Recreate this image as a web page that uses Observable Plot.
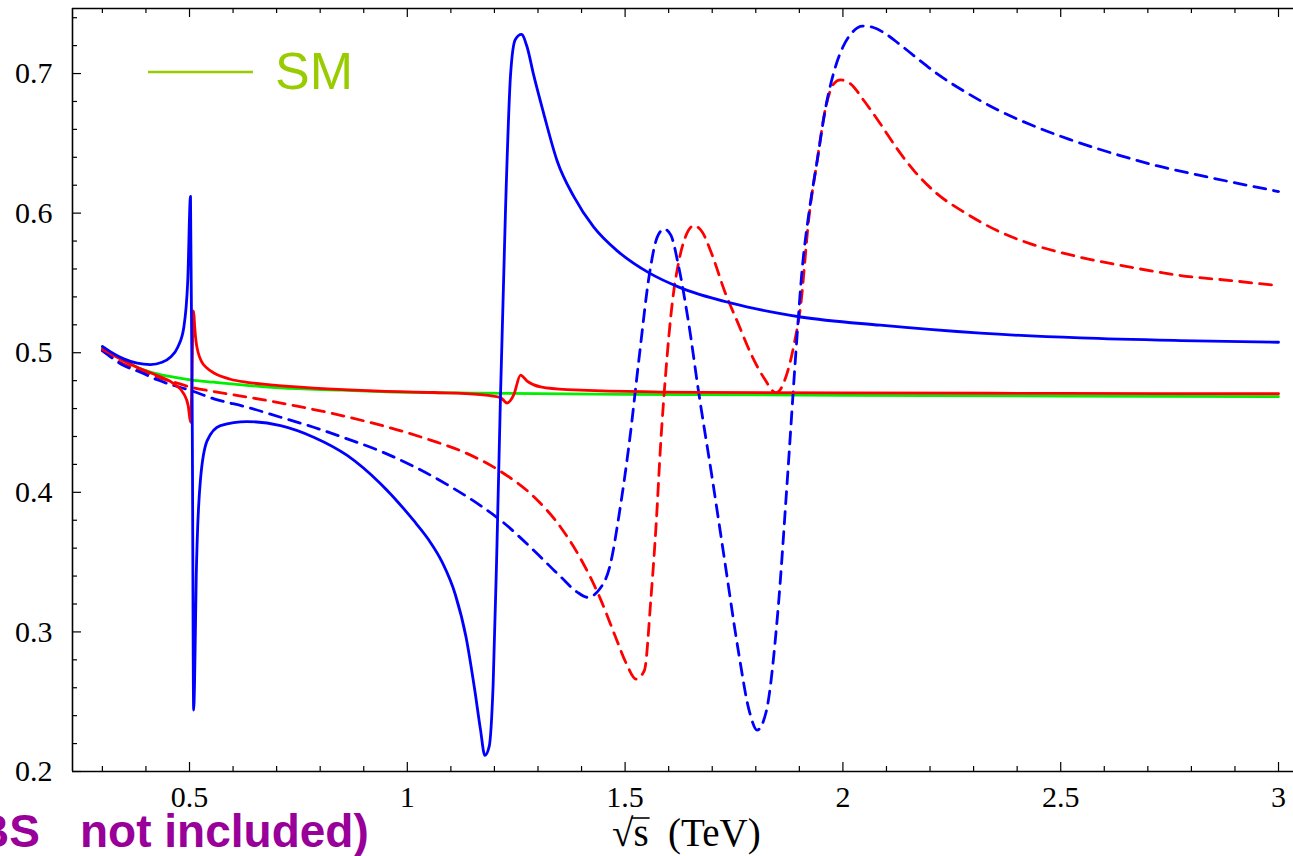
<!DOCTYPE html>
<html><head><meta charset="utf-8">
<script src="https://cdn.jsdelivr.net/npm/d3@7"></script>
<script src="https://cdn.jsdelivr.net/npm/@observablehq/plot@0.6"></script>
<style>
body{margin:0;background:#fff;}
#chart{position:relative;width:1293px;height:856px;overflow:hidden;background:#fff;}
</style>
</head><body><div id="chart"></div>
<script>
// ---- axes / ticks ----
const xDomain = [0.2314, 3.0344];
const yDomain = [0.2, 0.7466];
const xMajor = [0.5, 1, 1.5, 2, 2.5, 3];
const xMinor = [0.3,0.4,0.6,0.7,0.8,0.9,1.1,1.2,1.3,1.4,1.6,1.7,1.8,1.9,2.1,2.2,2.3,2.4,2.6,2.7,2.8,2.9];
const yMajor = [0.2, 0.3, 0.4, 0.5, 0.6, 0.7];
const yMinor = [0.22,0.24,0.26,0.28,0.32,0.34,0.36,0.38,0.42,0.44,0.46,0.48,0.52,0.54,0.56,0.58,0.62,0.64,0.66,0.68,0.72,0.74];

// ---- blue solid ----
const bsX = [0.30,0.319,0.349,0.380,0.410,0.437,0.456,0.473,0.487,0.496,0.5023,0.5065,0.5095,0.5115,0.5135,0.5155,0.5177,0.525,0.5406,0.571,0.632,0.709,0.785,0.862,0.938,1.014,1.049,1.08,1.11,1.135,1.155,1.168,1.178,1.188,1.197,1.206,1.214,1.2255,1.237,1.248,1.262,1.275,1.290,1.313,1.344,1.382,1.428,1.482,1.556,1.6235,1.744,1.857,1.903,2.086,2.316,2.545,2.775,3.0];
const bsY = [0.5045,0.5006,0.4956,0.4925,0.4915,0.4932,0.4968,0.5039,0.5183,0.5517,0.612,0.44,0.244,0.262,0.30,0.34,0.3655,0.4085,0.437,0.4478,0.4507,0.4478,0.4395,0.4264,0.4063,0.380,0.366,0.350,0.327,0.296,0.258,0.230,0.2115,0.218,0.262,0.364,0.470,0.603,0.699,0.7244,0.728,0.719,0.699,0.6715,0.6374,0.612,0.590,0.573,0.557,0.547,0.5355,0.528,0.5256,0.5197,0.514,0.5106,0.5087,0.5075];

// ---- red solid ----
const rsX = [0.30,0.334,0.3875,0.426,0.464,0.487,0.497,0.5025,0.5095,0.512,0.5155,0.52,0.528,0.54,0.556,0.594,0.632,0.686,0.785,0.938,1.061,1.168,1.214,1.229,1.2445,1.26,1.275,1.306,1.367,1.673,2.0,2.5,3.0];
const rsY = [0.5026,0.4968,0.4885,0.4837,0.4777,0.4706,0.462,0.4502,0.530,0.518,0.507,0.500,0.4935,0.489,0.4855,0.481,0.4788,0.477,0.4747,0.4725,0.4715,0.4700,0.4679,0.4640,0.470,0.484,0.4797,0.4755,0.4736,0.4716,0.4712,0.4709,0.4706];

// ---- green solid (SM) ----
const gsX = [0.30,0.349,0.3875,0.426,0.464,0.502,0.556,0.62,0.709,0.85,0.938,1.168,1.5,2.0,2.5,3.0];
const gsY = [0.5035,0.4944,0.4885,0.4849,0.4825,0.4806,0.4789,0.4770,0.4748,0.4732,0.4722,0.4710,0.4702,0.4695,0.4690,0.4686];

// ---- blue dashed ----
const bdX = [0.30,0.349,0.3875,0.426,0.464,0.502,0.556,0.632,0.709,0.785,0.862,0.938,1.015,1.0916,1.168,1.214,1.290,1.352,1.390,1.414,1.442,1.465,1.4876,1.510,1.533,1.5556,1.574,1.5895,1.6047,1.6235,1.646,1.669,1.699,1.7293,1.7594,1.7857,1.803,1.8237,1.850,1.873,1.8917,1.9068,1.922,1.941,1.960,1.983,2.00,2.02,2.045,2.07,2.10,2.13,2.17,2.22,2.28,2.35,2.43,2.52,2.62,2.72,2.82,2.92,3.0];
const bdY = [0.5015,0.4908,0.486,0.4806,0.4765,0.473,0.467,0.461,0.4538,0.4466,0.4383,0.4295,0.4185,0.4055,0.3905,0.380,0.3585,0.3395,0.3285,0.3248,0.3309,0.347,0.3868,0.4365,0.4987,0.5559,0.583,0.5886,0.5844,0.5608,0.521,0.4714,0.412,0.3495,0.2874,0.2426,0.2297,0.2426,0.3122,0.4117,0.4987,0.561,0.600,0.6377,0.675,0.705,0.719,0.729,0.734,0.733,0.728,0.721,0.711,0.699,0.687,0.6748,0.6635,0.6528,0.6428,0.634,0.627,0.6205,0.6155];

// ---- red dashed ----
const rdX = [0.30,0.349,0.3875,0.426,0.464,0.502,0.556,0.6706,0.747,0.8237,0.900,0.977,1.0533,1.130,1.214,1.290,1.352,1.3969,1.442,1.480,1.5027,1.5255,1.5443,1.5594,1.5707,1.582,1.5935,1.6084,1.6235,1.6386,1.6575,1.6763,1.699,1.7293,1.7594,1.7897,1.820,1.8464,1.8728,1.888,1.9027,1.922,1.941,1.960,1.979,1.9945,2.0175,2.048,2.086,2.1246,2.163,2.2165,2.278,2.354,2.431,2.545,2.660,2.775,2.890,3.0];
const rdY = [0.5015,0.4920,0.4873,0.4825,0.479,0.4754,0.4722,0.4662,0.4617,0.4568,0.4512,0.4448,0.4374,0.4288,0.415,0.397,0.375,0.353,0.3246,0.2948,0.2774,0.2662,0.2725,0.3246,0.3743,0.4365,0.4863,0.536,0.5657,0.5831,0.591,0.5868,0.5707,0.5434,0.521,0.4987,0.4813,0.4713,0.4863,0.5062,0.533,0.597,0.6377,0.675,0.6926,0.6954,0.6926,0.6807,0.664,0.646,0.6305,0.6138,0.6007,0.5875,0.578,0.5684,0.5613,0.5553,0.5517,0.548];

const toRows = (xs, ys) => xs.map((x, i) => ({x, y: ys[i]}));
const bs = toRows(bsX, bsY), rs = toRows(rsX, rsY), gs = toRows(gsX, gsY),
      bd = toRows(bdX, bdY), rd = toRows(rdX, rdY);

const W = 1293, H = 856, mL = 72, mT = 8, mB = 85, mR = 0;
const FW = W - mL - mR, FH = H - mT - mB;
const serif = "Liberation Serif, Times New Roman, serif";
const sans = "Liberation Sans, Arial, sans-serif";
const lineOpts = {x: "x", y: "y", strokeWidth: 2.8, curve: "monotone-x"};

const plot = Plot.plot({
  width: W, height: H,
  marginLeft: mL, marginTop: mT, marginBottom: mB, marginRight: mR,
  style: {fontFamily: serif, fontSize: "30px", color: "black", background: "white", overflow: "visible"},
  x: {domain: xDomain, label: null},
  y: {domain: yDomain, label: null},
  marks: [
    Plot.ruleX([xDomain[0]], {stroke: "black", strokeWidth: 1.6}),
    Plot.ruleY([yDomain[0]], {stroke: "black", strokeWidth: 1.6}),
    Plot.ruleY([yDomain[1]], {stroke: "black", strokeWidth: 1.6}),
    Plot.tickX(xMinor, {x: d => d, insetTop: FH - 5, stroke: "black", strokeWidth: 1.2}),
    Plot.tickX(xMajor, {x: d => d, insetTop: FH - 9, stroke: "black", strokeWidth: 1.2}),
    Plot.tickX(xMinor, {x: d => d, insetBottom: FH - 5, stroke: "black", strokeWidth: 1.2}),
    Plot.tickX(xMajor, {x: d => d, insetBottom: FH - 9, stroke: "black", strokeWidth: 1.2}),
    Plot.tickY(yMinor, {y: d => d, insetRight: FW - 5, stroke: "black", strokeWidth: 1.2}),
    Plot.tickY(yMajor, {y: d => d, insetRight: FW - 9, stroke: "black", strokeWidth: 1.2}),
    Plot.axisX(xMajor, {tickSize: 0, tickPadding: 14, fontSize: 30, fontFamily: serif, fill: "black", tickFormat: d => String(d), label: null}),
    Plot.axisY(yMajor, {tickSize: 0, tickPadding: 20, fontSize: 30, fontFamily: serif, fill: "black", tickFormat: d3.format(".1f"), label: null}),
    Plot.line(gs, {...lineOpts, stroke: "#00ee00"}),
    Plot.line(rd, {...lineOpts, stroke: "#ff0000", strokeDasharray: "12,8"}),
    Plot.line(bd, {...lineOpts, stroke: "#0000ff", strokeDasharray: "12,8"}),
    Plot.line(rs, {...lineOpts, stroke: "#ff0000"}),
    Plot.line(bs, {...lineOpts, stroke: "#0000ff"})
  ]
});

document.getElementById("chart").appendChild(plot);
const svg = d3.select(plot);
// legend
svg.append("line").attr("x1", 148).attr("x2", 253).attr("y1", 72).attr("y2", 72)
  .attr("stroke", "#99cc00").attr("stroke-width", 2.6);
svg.append("text").attr("x", 275).attr("y", 89).attr("text-anchor", "start")
  .attr("font-family", sans).attr("font-size", 52)
  .attr("fill", "#99cc00").text("SM");
// x axis title: radical sign with a bar over s
const xt = svg.append("text").attr("x", 612).attr("y", 846).attr("text-anchor", "start")
  .attr("font-family", serif).attr("font-size", 39).attr("fill", "black")
  .style("white-space", "pre");
const tRad = xt.append("tspan").text("\u221A");
const tS = xt.append("tspan").text("s");
xt.append("tspan").text("  (TeV)");
const radW = tRad.node().getComputedTextLength();
const sW = tS.node().getComputedTextLength();
svg.append("line").attr("x1", 612 + radW - 2).attr("x2", 612 + radW + sW + 1)
  .attr("y1", 818).attr("y2", 818).attr("stroke", "black").attr("stroke-width", 1.6);
// purple note (cut at left edge)
svg.append("text").attr("x", 40).attr("y", 847).attr("text-anchor", "end")
  .attr("font-family", sans).attr("font-weight", "bold")
  .attr("font-size", 46).attr("fill", "#990099").text("(BS");
svg.append("text").attr("x", 80).attr("y", 847).attr("text-anchor", "start")
  .attr("font-family", sans).attr("font-weight", "bold")
  .attr("font-size", 46).attr("fill", "#990099").text("not included)");
</script>
</body></html>
